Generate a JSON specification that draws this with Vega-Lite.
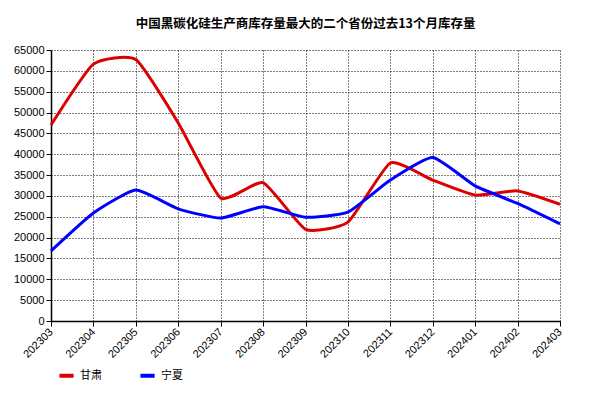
{
  "$schema": "https://vega.github.io/schema/vega-lite/v6.json",
  "width": 509,
  "height": 271,
  "autosize": {"type": "none"},
  "padding": {"left": 51, "top": 50, "right": 47, "bottom": 73},
  "background": "white",
  "title": {"text": "中国黑碳化硅生产商库存量最大的二个省份过去13个月库存量", "fontSize": 12.5, "fontWeight": "bold", "font": "Noto Sans CJK SC", "color": "#000000", "anchor": "middle", "offset": 14},
  "config": {"view": {"stroke": null}, "font": "Liberation Sans"},
  "data": {"values": [
    {"month": "202303", "province": "甘肃", "value": 47000},
    {"month": "202304", "province": "甘肃", "value": 61600},
    {"month": "202305", "province": "甘肃", "value": 62700},
    {"month": "202306", "province": "甘肃", "value": 47500},
    {"month": "202307", "province": "甘肃", "value": 29500},
    {"month": "202308", "province": "甘肃", "value": 33200},
    {"month": "202309", "province": "甘肃", "value": 22000},
    {"month": "202310", "province": "甘肃", "value": 23700},
    {"month": "202311", "province": "甘肃", "value": 37900},
    {"month": "202312", "province": "甘肃", "value": 33800},
    {"month": "202401", "province": "甘肃", "value": 30200},
    {"month": "202402", "province": "甘肃", "value": 31200},
    {"month": "202403", "province": "甘肃", "value": 28000},
    {"month": "202303", "province": "宁夏", "value": 16800},
    {"month": "202304", "province": "宁夏", "value": 25900},
    {"month": "202305", "province": "宁夏", "value": 31400},
    {"month": "202306", "province": "宁夏", "value": 26900},
    {"month": "202307", "province": "宁夏", "value": 24700},
    {"month": "202308", "province": "宁夏", "value": 27400},
    {"month": "202309", "province": "宁夏", "value": 24900},
    {"month": "202310", "province": "宁夏", "value": 26100},
    {"month": "202311", "province": "宁夏", "value": 33800},
    {"month": "202312", "province": "宁夏", "value": 39200},
    {"month": "202401", "province": "宁夏", "value": 32400},
    {"month": "202402", "province": "宁夏", "value": 28200},
    {"month": "202403", "province": "宁夏", "value": 23300}
  ]},
  "mark": {"type": "line", "interpolate": "cardinal", "tension": 0.5, "strokeWidth": 3},
  "encoding": {
    "x": {"field": "month", "type": "ordinal", "scale": {"type": "point", "padding": 0},
      "axis": {"title": null, "labelAngle": -45, "labelAlign": "right", "labelBaseline": "middle", "labelFontSize": 11, "labelColor": "#000", "domainColor": "#000", "domainWidth": 1.5, "tickColor": "#000", "tickSize": 5, "grid": true, "gridColor": "#000", "gridDash": [1, 2], "gridOpacity": 1, "labelPadding": 4}},
    "y": {"field": "value", "type": "quantitative", "scale": {"domain": [0, 65000], "nice": false},
      "axis": {"title": null, "values": [0,5000,10000,15000,20000,25000,30000,35000,40000,45000,50000,55000,60000,65000], "format": "d", "labelFontSize": 11, "labelColor": "#000", "domainColor": "#000", "domainWidth": 1.5, "tickColor": "#000", "tickSize": 5, "grid": true, "gridColor": "#000", "gridDash": [1, 2], "gridOpacity": 1}},
    "color": {"field": "province", "type": "nominal", "sort": ["甘肃", "宁夏"],
      "scale": {"domain": ["甘肃", "宁夏"], "range": ["#DD0000", "#0000FF"]},
      "legend": {"title": null, "orient": "none", "legendX": 6, "legendY": 316, "direction": "horizontal", "symbolType": "stroke", "symbolStrokeWidth": 4, "symbolSize": 200, "labelFontSize": 11, "labelFont": "Noto Sans CJK SC", "columnPadding": 30, "labelColor": "#000"}}
  }
}
